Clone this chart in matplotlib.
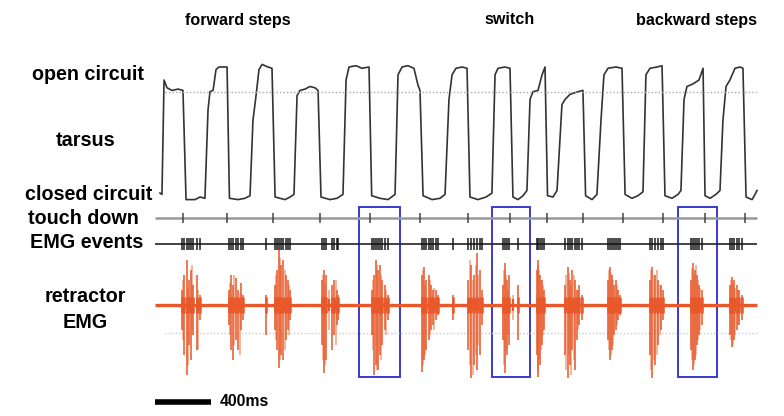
import matplotlib
matplotlib.use('Agg')
from matplotlib import pyplot as plt
from matplotlib.patches import Rectangle

plt.rcParams['font.family'] = ['Liberation Sans', 'DejaVu Sans']

# tarsus angle (0 = closed circuit, 1 = open circuit), time in ms
tarsus_t = [0, 14, 29, 50, 86, 129, 164, 186, 250, 286, 321, 343, 357, 379, 400, 421, 479,
            496, 557, 607, 643, 664, 686, 707, 729, 771, 800, 822, 893, 929, 957, 979, 1000,
            1036, 1071, 1107, 1129, 1150, 1214, 1264, 1307, 1329, 1350, 1400, 1443, 1493,
            1512, 1571, 1629, 1679, 1700, 1729, 1771, 1814, 1843, 1857, 1879, 1943, 2000,
            2036, 2064, 2086, 2114, 2157, 2193, 2214, 2271, 2329, 2371, 2393, 2414, 2464,
            2500, 2521, 2557, 2593, 2621, 2643, 2664, 2700, 2729, 2750, 2768, 2807, 2836,
            2871, 2893, 2929, 2986, 3021, 3040, 3086, 3121, 3150, 3171, 3200, 3257, 3300,
            3322, 3371, 3414, 3450, 3471, 3500, 3550, 3586, 3607, 3657, 3700, 3721, 3743,
            3764, 3807, 3850, 3879, 3893, 3929, 3971, 4000, 4021, 4043, 4071, 4107, 4143,
            4164, 4186, 4229, 4250, 4264]
tarsus_v = [0.03, 0.02, 0.90, 0.84, 0.82, 0.83, 0.82, -0.02, -0.02, 0.0, -0.01, 0.67, 0.81,
            0.82, 0.98, 1.0, 1.0, -0.01, -0.02, -0.01, 0.01, 0.59, 0.78, 0.98, 1.02, 1.0,
            0.99, 0.0, -0.02, 0.0, 0.02, 0.78, 0.82, 0.83, 0.85, 0.84, 0.82, 0.0, -0.02,
            -0.01, 0.02, 0.90, 1.0, 1.01, 0.99, 1.0, 0.01, -0.01, -0.02, 0.02, 0.94, 1.0,
            1.01, 0.99, 0.86, 0.82, 0.01, -0.02, -0.01, 0.02, 0.75, 0.94, 0.99, 1.0, 0.99,
            0.0, -0.02, 0.0, 0.03, 0.94, 0.99, 1.0, 0.99, 0.0, -0.02, 0.01, 0.05, 0.75,
            0.81, 0.82, 0.94, 1.0, 0.01, 0.0, 0.05, 0.71, 0.75, 0.79, 0.81, 0.82, 0.01,
            -0.02, 0.02, 0.59, 0.94, 0.99, 1.0, 0.99, 0.02, -0.01, 0.01, 0.04, 0.94, 0.99,
            1.0, 1.01, 0.01, -0.01, 0.02, 0.05, 0.75, 0.85, 0.87, 0.90, 0.99, 0.01, -0.01,
            0.02, 0.05, 0.59, 0.85, 0.90, 0.99, 1.0, 0.99, 0.0, -0.02, 0.02, 0.05]

# touch down times (ms)
touchdown_t = [164, 479, 807, 1143, 1500, 1857, 2200, 2500, 2764, 3021, 3307, 3593, 3893, 4179]

# detected EMG events (ms)
events_t = [159, 174, 191, 207, 221, 238, 262, 286,
            493, 507, 524, 541, 560, 579, 595,
            757,
            821, 836, 850, 864, 881, 898, 912, 929,
            1155, 1171, 1188, 1226, 1245, 1262, 1274,
            1512, 1526, 1540, 1555, 1571, 1588, 1607, 1626,
            1869, 1886, 1902, 1919, 1936, 1952, 1971, 1988,
            2093,
            2202, 2221, 2245, 2264, 2286, 2302,
            2452, 2464, 2479, 2493, 2559,
            2691, 2702, 2716, 2731, 2745,
            2893, 2912, 2929, 2945, 2964, 2979, 2993, 3012,
            3198, 3212, 3226, 3240, 3255, 3269, 3283,
            3500, 3516, 3536, 3559, 3579, 3595,
            3793, 3807, 3821, 3836, 3850, 3869,
            4071, 4086, 4102, 4119, 4136, 4155]

# retractor EMG spike peaks at each event (mV)
emg_hi = [0.3, 0.6, 0.9, 0.5, 0.7, 0.4, 0.6, 0.2,
          0.3, 0.6, 0.4, 0.55, 0.3, 0.45, 0.2,
          0.2,
          0.4, 0.7, 1.1, 0.8, 0.9, 0.6, 0.5, 0.3,
          0.5, 0.7, 0.6, 0.4, 0.5, 0.3, 0.2,
          0.3, 0.6, 0.9, 0.7, 0.8, 0.5, 0.4, 0.2,
          0.6, 0.76, 0.5, 0.6, 0.4, 0.3, 0.3, 0.2,
          0.2,
          0.5, 0.8, 0.6, 1.04, 0.7, 0.3,
          0.4, 0.84, 0.5, 0.6, 0.4,
          0.7, 0.9, 0.6, 0.5, 0.3,
          0.4, 0.76, 0.5, 0.7, 0.5, 0.3, 0.4, 0.2,
          0.5, 0.76, 0.6, 0.4, 0.5, 0.3, 0.2,
          0.5, 0.76, 0.6, 0.5, 0.4, 0.3,
          0.5, 0.84, 0.7, 0.6, 0.4, 0.3,
          0.4, 0.56, 0.5, 0.4, 0.3, 0.2]
emg_lo = [-0.5, -1.0, -1.4, -0.8, -1.1, -0.6, -0.9, -0.3,
          -0.4, -0.9, -1.1, -0.7, -0.9, -0.5, -0.3,
          -0.6,
          -0.5, -0.9, -1.26, -1.0, -1.1, -0.7, -0.5, -0.3,
          -0.8, -1.36, -1.1, -0.9, -0.6, -0.4, -0.3,
          -0.6, -1.4, -1.2, -1.3, -1.0, -0.8, -0.5, -0.3,
          -1.34, -1.1, -0.9, -0.7, -0.5, -0.4, -0.3, -0.2,
          -0.3,
          -0.9, -1.46, -1.2, -1.3, -1.0, -0.4,
          -0.7, -1.36, -1.0, -0.8, -0.7,
          -1.0, -1.44, -1.2, -0.8, -0.5,
          -1.0, -1.46, -1.2, -0.9, -1.3, -0.7, -0.4, -0.3,
          -0.7, -1.1, -0.9, -0.6, -0.5, -0.3, -0.2,
          -1.0, -1.46, -1.2, -0.8, -0.5, -0.3,
          -0.9, -1.3, -1.1, -0.8, -0.6, -0.4,
          -0.6, -0.84, -0.7, -0.5, -0.4, -0.3]

# smaller EMG spikes between detected events (ms, mV)
extra_t = [167, 199, 230, 275, 500, 532, 569, 828, 857, 890, 920,
           1163, 1180, 1210, 1254, 1519, 1548, 1580, 1615, 1877, 1894, 1928, 1960,
           2211, 2233, 2255, 2275, 2458, 2471, 2486, 2520, 2697, 2709, 2723, 2738,
           2902, 2920, 2937, 2955, 2985, 3205, 3219, 3233, 3262, 3508, 3526, 3547, 3569,
           3800, 3814, 3828, 3843, 3860, 4078, 4094, 4110, 4128]
extra_hi = [0.5, 0.35, 0.8, 0.3, 0.45, 0.6, 0.25, 0.6, 0.95, 0.7, 0.4,
            0.6, 0.4, 0.3, 0.5, 0.5, 0.8, 0.6, 0.3, 0.7, 0.4, 0.5, 0.35,
            0.9, 0.5, 0.8, 0.6, 0.7, 0.6, 0.3, 0.2, 0.8, 0.7, 0.5, 0.4,
            0.6, 0.65, 0.4, 0.6, 0.3, 0.7, 0.65, 0.5, 0.4, 0.7, 0.6, 0.7, 0.4,
            0.75, 0.6, 0.8, 0.5, 0.35, 0.5, 0.45, 0.35, 0.3]
extra_lo = [-0.7, -1.2, -0.5, -0.9, -0.6, -0.8, -1.0, -0.7, -1.1, -0.9, -0.6,
            -1.1, -1.2, -0.5, -0.8, -0.9, -1.3, -1.1, -0.6, -1.2, -1.0, -0.6, -0.5,
            -1.2, -1.4, -1.0, -0.8, -1.2, -0.9, -0.6, -0.3, -1.3, -1.1, -0.9, -0.6,
            -1.3, -1.0, -1.4, -1.1, -0.5, -0.9, -1.0, -0.8, -0.4, -1.3, -1.1, -1.0, -0.6,
            -1.1, -1.2, -1.0, -0.7, -0.5, -0.7, -0.8, -0.6, -0.4]

# highlighted steps (ms)
box_start = [1421, 2371, 3700]
box_end = [1714, 2643, 3979]

trace_end = 4264
scale_ms = 400

# layout: 400 ms = 56 px, y axis in pixel rows
ms_px = 400 / 56
fig = plt.figure(figsize=(7.84, 4.16), dpi=100)
ax = fig.add_axes([0, 0, 1, 1])
ax.set_xlim(-160 * ms_px, (784 - 160) * ms_px)
ax.set_ylim(416, 0)
ax.axis('off')

orange = '#e8582a'

def emg_y(v):
    return [305 - 50 * a for a in v]

# tarsus
ty = [197 - 130 * v for v in tarsus_v]
ax.plot(tarsus_t, ty, color='#333333', lw=1.2)
ax.hlines(92, 5 * ms_px, trace_end, colors='#aaaaaa', linestyles=(0, (1, 1.5)), lw=1)

# touch down
ax.hlines(218, -5 * ms_px, trace_end, colors='#999999', lw=1.8)
ax.vlines(touchdown_t, 213, 223, colors='#444444', lw=1.1)

# EMG events
ax.hlines(244, -5 * ms_px, trace_end, colors='#222222', lw=1.2)
ax.vlines(events_t, 238, 250, colors='#111111', lw=1.4, alpha=0.75)

# retractor EMG
ax.hlines(333, 5 * ms_px, trace_end, colors='#cccccc', linestyles=(0, (1, 1.5)), lw=1)
ax.hlines(305, -5 * ms_px, trace_end, colors=orange, lw=2.4)
ax.vlines(extra_t, emg_y(extra_lo), emg_y(extra_hi), colors='#ef9470', lw=1.3, alpha=0.75)
ax.vlines(events_t, emg_y(emg_lo), emg_y(emg_hi), colors=orange, lw=1.4, alpha=0.8)
ax.vlines(events_t, 297, 313, colors=orange, lw=1.8)
ax.vlines(extra_t, 299, 311, colors=orange, lw=1.6)

for a, b in zip(box_start, box_end):
    ax.add_patch(Rectangle((a, 207), b - a, 170, fill=False, edgecolor='#3a3ad0', lw=1.4))

# scale bar
ax.hlines(402, -5 * ms_px, -5 * ms_px + scale_ms, colors='black', lw=4)
ax.text(60 * ms_px, 402, '400ms', fontsize=11.4, fontweight='bold', va='center', ha='left')

bold = dict(fontweight='bold', fontsize=14.2)
ax.text(32 / 784, 1 - 75 / 416, 'open circuit', transform=fig.transFigure, va='center', **bold)
ax.text(86 / 784, 1 - 140 / 416, 'tarsus', transform=fig.transFigure, va='center', ha='center', **bold)
ax.text(25 / 784, 1 - 195 / 416, 'closed circuit', transform=fig.transFigure, va='center', **bold)
ax.text(28 / 784, 1 - 218 / 416, 'touch down', transform=fig.transFigure, va='center', **bold)
ax.text(30 / 784, 1 - 243 / 416, 'EMG events', transform=fig.transFigure, va='center', **bold)
ax.text(85 / 784, 1 - 297 / 416, 'retractor', transform=fig.transFigure, va='center', ha='center', **bold)
ax.text(85 / 784, 1 - 323 / 416, 'EMG', transform=fig.transFigure, va='center', ha='center', **bold)

top = dict(fontweight='bold', fontsize=11.6, va='center', ha='center', transform=fig.transFigure)
ax.text(238 / 784, 1 - 20 / 416, 'forward steps', **top)
ax.text(510 / 784, 1 - 20 / 416, 'switch', **top)
ax.text(696 / 784, 1 - 20 / 416, 'backward steps', **top)

fig.savefig('out.png', dpi=100)
